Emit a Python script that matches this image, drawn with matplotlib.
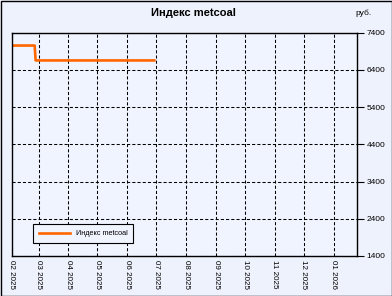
import matplotlib
matplotlib.use("Agg")
import matplotlib.pyplot as plt
import matplotlib.dates as mdates
import pandas as pd
from matplotlib.patches import Rectangle

dates = pd.to_datetime(["2025-02-01", "2025-02-25", "2025-02-26", "2025-06-29"])
values = [7050, 7050, 6650, 6650]
series_name = "Индекс metcoal"
title = "Индекс metcoal"
unit = "руб."
y_ticks = [1400, 2400, 3400, 4400, 5400, 6400, 7400]
x_ticks = pd.date_range("2025-02-01", "2026-01-01", freq="MS")

plt.rcParams['font.family'] = ['Liberation Sans', 'DejaVu Sans']
bg = "#EEF2FC"

fig = plt.figure(figsize=(3.92, 2.96), dpi=100, facecolor=bg)
ax = fig.add_axes([11.5/392, 1-256/296, (357-11.5)/392, (256-32.5)/296])
ax.set_facecolor("#F0F4FE")

ax.plot(dates, values, color="#FF6600", lw=1.9, label=series_name)

ax.set_xlim(pd.Timestamp("2025-02-01"), pd.Timestamp("2026-01-25"))
ax.set_ylim(1400, 7400)
ax.set_yticks(y_ticks)
ax.set_xticks(x_ticks)
ax.xaxis.set_major_formatter(mdates.DateFormatter("%m %Y"))
ax.yaxis.tick_right()
ax.tick_params(axis='y', direction='out', length=5, width=0.8, labelsize=6, pad=2, colors='black')
ax.tick_params(axis='x', length=0, labelsize=5.8, pad=3, labelrotation=-90)
for lbl in ax.get_xticklabels():
    lbl.set_va('top')
ax.grid(True, color='black', linestyle=(0, (3, 2)), linewidth=0.75)
for s in ax.spines.values():
    s.set_color('black')
    s.set_linewidth(1.0)

fig.text(193/392, 1-13/296, title, ha='center', va='center', fontsize=8, fontweight='bold')
fig.text(364/392, 1-13/296, unit, ha='center', va='center', fontsize=6)

leg = ax.legend(loc='lower left', bbox_to_anchor=(0.062, 0.058), borderaxespad=0,
                fontsize=5.2, frameon=True, fancybox=False, edgecolor='black',
                facecolor="#F0F4FE", framealpha=1, handlelength=4.3, borderpad=0.8,
                handletextpad=0.8)
leg.get_frame().set_linewidth(0.8)

fig.patches.append(Rectangle((0.5/392, 0.5/296), 1-1/392, 1-1/296, transform=fig.transFigure,
                             fill=False, edgecolor='black', linewidth=1.0))
fig.savefig("out.png", dpi=100, facecolor=bg)
